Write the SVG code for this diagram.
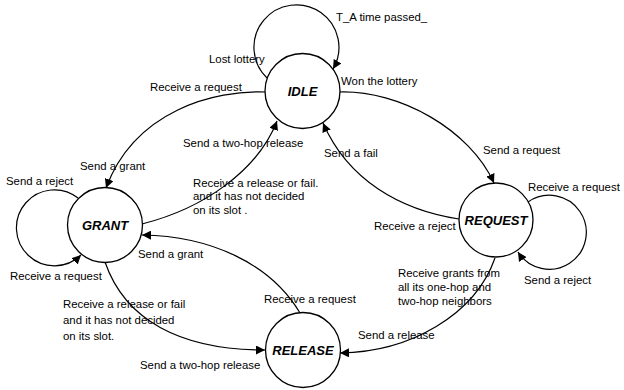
<svg xmlns="http://www.w3.org/2000/svg" width="624" height="390" viewBox="0 0 624 390">
<style>
.n{fill:#fff;stroke:#000;stroke-width:1.3}
.nl{font-family:"Liberation Sans",Arial,sans-serif;font-size:13px;font-weight:bold;font-style:italic;text-anchor:middle;dominant-baseline:central}
.e{fill:none;stroke:#000;stroke-width:1.2;marker-end:url(#ah)}
.t{font-family:"Liberation Sans",Arial,sans-serif;font-size:11.4px;fill:#000}
</style>
<defs>
<marker id="ah" viewBox="0 0 10 10" refX="10" refY="5" markerWidth="9" markerHeight="9" markerUnits="userSpaceOnUse" orient="auto">
<path d="M0,0 L10,5 L0,10 z" fill="#000"/>
</marker>
</defs>
<rect width="624" height="390" fill="#fff"/>
<g id="connectors">
<path class="e" d="M267,78 A42.5,42.5 0 1 1 333,69"/>
<path class="e" d="M78,198 A38,38 0 1 0 81,255"/>
<path class="e" d="M528,202 A37,37 0 1 1 518,252"/>
<path class="e" d="M266,92 C215,90 135,110 106,188"/>
<path class="e" d="M142,224 C205,208 258,170 277,121"/>
<path class="e" d="M339,92 C400,90 470,130 494,183"/>
<path class="e" d="M459,219 C400,210 348,180 323,123"/>
<path class="e" d="M495,258 C475,315 410,352 340,353"/>
<path class="e" d="M300,313 C270,263 210,236 142,235"/>
<path class="e" d="M105,262 C125,320 180,350 265,350"/>
</g>
<g id="idle"><circle class="n" cx="302.5" cy="91" r="37.5"/><text class="nl" x="302.5" y="91">IDLE</text></g>
<g id="grant"><circle class="n" cx="105" cy="225" r="37.5"/><text class="nl" x="105" y="225">GRANT</text></g>
<g id="request"><circle class="n" cx="496" cy="220" r="37"/><text class="nl" x="496" y="220">REQUEST</text></g>
<g id="release"><circle class="n" cx="303" cy="350" r="37.5"/><text class="nl" x="303" y="350">RELEASE</text></g>
<g id="labels" class="t">
<text x="336" y="21">T_A time passed_</text>
<text x="209" y="63">Lost lottery</text>
<text x="341" y="85">Won the lottery</text>
<text x="150" y="91">Receive a request</text>
<text x="183" y="147">Send a two-hop release</text>
<text x="80" y="170">Send a grant</text>
<text x="6" y="185">Send a reject</text>
<text x="193" y="187">Receive a release or fail.</text>
<text x="193" y="200">and it has not decided</text>
<text x="193" y="214">on its slot .</text>
<text x="324" y="157">Send a fail</text>
<text x="483" y="154">Send a request</text>
<text x="528" y="191">Receive a request</text>
<text x="374" y="230">Receive a reject</text>
<text x="138" y="258">Send a grant</text>
<text x="10" y="280">Receive a request</text>
<text x="524" y="284">Send a reject</text>
<text x="398" y="277">Receive grants from</text>
<text x="398" y="291">all its one-hop and</text>
<text x="398" y="305">two-hop neighbors</text>
<text x="264" y="303">Receive a request</text>
<text x="63" y="308">Receive a release or fail</text>
<text x="63" y="324">and it has not decided</text>
<text x="63" y="340">on its slot.</text>
<text x="358" y="339">Send a release</text>
<text x="140" y="369">Send a two-hop release</text>
</g>
</svg>
